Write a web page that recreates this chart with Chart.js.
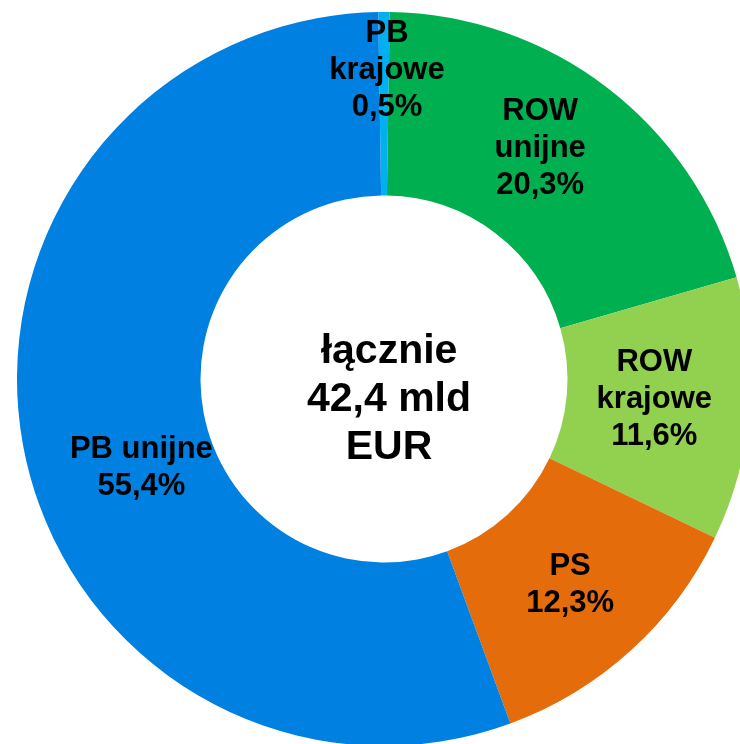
<!DOCTYPE html>
<html>
<head>
<meta charset="utf-8">
<script src="https://cdn.jsdelivr.net/npm/chart.js@4/dist/chart.umd.min.js"></script>
<style>
  html, body { margin: 0; padding: 0; background: #fff; overflow: hidden; }
  canvas { display: block; }
</style>
</head>
<body>
<canvas id="myChart" width="760" height="760"></canvas>
<script>
var ctx = document.getElementById('myChart').getContext('2d');

const categories = ['PB krajowe', 'ROW unijne', 'ROW krajowe', 'PS', 'PB unijne'];
const shares = [0.5, 20.3, 11.6, 12.3, 55.4];
const labelLines = [['PB', 'krajowe'], ['ROW', 'unijne'], ['ROW', 'krajowe'], ['PS'], ['PB unijne']];
const centerLines = ['łącznie', '42,4 mld', 'EUR'];

const colors = ['#00B0F0', '#00B050', '#92D050', '#E46C0A', '#0080E0'];
// small shifts so labels sit where the original has them
const labelShift = [[3, -33], [-11, -12], [-4, -2], [1, 2], [28, 39]];
const FONT = '"Liberation Sans", Arial, sans-serif';

const labelsPlugin = {
    id: 'sliceLabels',
    afterDatasetsDraw(chart) {
        const c = chart.ctx;
        const arcs = chart.getDatasetMeta(0).data;
        c.save();
        c.fillStyle = '#000';
        c.textAlign = 'center';
        c.textBaseline = 'middle';
        c.font = 'bold 31px ' + FONT;
        arcs.forEach((arc, i) => {
            const p = arc.getProps(['x', 'y', 'startAngle', 'endAngle', 'innerRadius', 'outerRadius'], true);
            const mid = (p.startAngle + p.endAngle) / 2;
            const r = (p.innerRadius + p.outerRadius) / 2;
            const lines = labelLines[i].concat(shares[i].toFixed(1).replace('.', ',') + '%');
            const x = p.x + Math.cos(mid) * r + labelShift[i][0];
            const y = p.y + Math.sin(mid) * r + labelShift[i][1];
            const lh = 37;
            lines.forEach((t, k) => {
                c.fillText(t, x, y + (k - (lines.length - 1) / 2) * lh);
            });
        });
        // total in the hole
        const a = arcs[0];
        c.font = 'bold 41px ' + FONT;
        centerLines.forEach((t, k) => {
            c.fillText(t, a.x + 5, a.y + 21 + (k - 1) * 48);
        });
        c.restore();
    }
};

new Chart(ctx, {
    type: 'doughnut',
    data: {
        labels: categories,
        datasets: [{
            data: shares,
            backgroundColor: colors,
            borderWidth: 0
        }]
    },
    options: {
        responsive: false,
        animation: false,
        cutout: '50%',
        rotation: -0.9,
        layout: { padding: { left: 17, top: 12, right: 9, bottom: 14 } },
        plugins: {
            legend: { display: false },
            tooltip: { enabled: false }
        }
    },
    plugins: [labelsPlugin]
});
</script>
</body>
</html>
